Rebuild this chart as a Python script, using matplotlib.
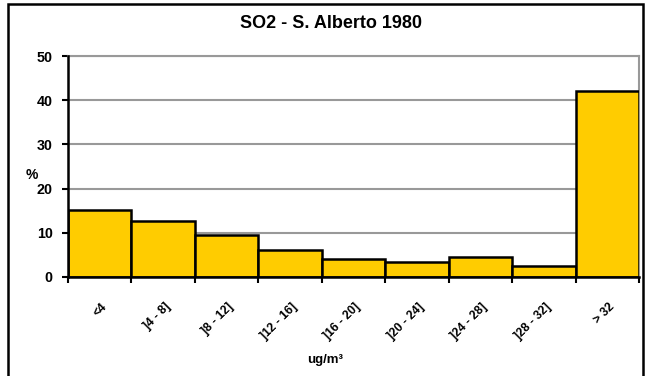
import matplotlib
matplotlib.use("Agg")
import matplotlib.pyplot as plt
import matplotlib.transforms as mtransforms
import numpy as np
from matplotlib.patches import Rectangle

plt.rcParams['font.family'] = ['Liberation Sans', 'DejaVu Sans']

# data
categories = ['<4', ']4 - 8]', ']8 - 12]', ']12 - 16]', ']16 - 20]',
              ']20 - 24]', ']24 - 28]', ']28 - 32]', '> 32']
percent = [15.2, 12.6, 9.5, 6.1, 4.1, 3.3, 4.5, 2.6, 42.1]
yticks = [0, 10, 20, 30, 40, 50]

fig = plt.figure(figsize=(6.46, 3.76), dpi=100)
ax = fig.add_axes([68 / 646, 1 - 277 / 376, 571 / 646, 221 / 376])

x = np.arange(len(categories))
ax.bar(x, percent, width=1.0, color='#FFCC00', edgecolor='black',
       linewidth=1.8, zorder=3)

ax.set_xlim(-0.5, len(categories) - 0.5)
ax.set_ylim(0, 50)
ax.set_yticks(yticks)
ax.yaxis.grid(True, color='#999999', linewidth=1.5, zorder=0)

ax.set_xticks(x)
ax.set_xticklabels(categories, rotation=45, ha='right', rotation_mode='anchor',
                   fontsize=8.7, fontweight='bold')
ax.tick_params(axis='x', which='major', length=0, pad=17)
shift = mtransforms.ScaledTranslation(1 / 100, 0, fig.dpi_scale_trans)
for lbl in ax.get_xticklabels():
    lbl.set_transform(lbl.get_transform() + shift)
ax.set_xticks(np.arange(len(categories) + 1) - 0.5, minor=True)
ax.tick_params(axis='x', which='minor', direction='out', length=4, width=1.5)
ax.tick_params(axis='y', direction='out', length=4, width=1.5, labelsize=10.3,
               pad=7)
for lbl in ax.get_yticklabels():
    lbl.set_fontweight('bold')

for side in ['top', 'right']:
    ax.spines[side].set_color('#999999')
    ax.spines[side].set_linewidth(1.5)
for side in ['left', 'bottom']:
    ax.spines[side].set_color('black')
    ax.spines[side].set_linewidth(1.8)
    ax.spines[side].set_zorder(4)

fig.text(331 / 646, 1 - 23 / 376, 'SO2 - S. Alberto 1980', ha='center',
         va='center', fontsize=13, fontweight='bold')
fig.text(32 / 646, 1 - 175 / 376, '%', ha='center', va='center',
         fontsize=10, fontweight='bold')
fig.text(325 / 646, 1 - 360 / 376, 'ug/m³', ha='center', va='center',
         fontsize=9.5, fontweight='bold')

# outer chart border
fig.patches.append(Rectangle((8 / 646, -0.01), 635 / 646, 1 - 4 / 376 + 0.01,
                             transform=fig.transFigure, fill=False,
                             edgecolor='black', linewidth=1.8))

fig.savefig('out.png', dpi=100)
